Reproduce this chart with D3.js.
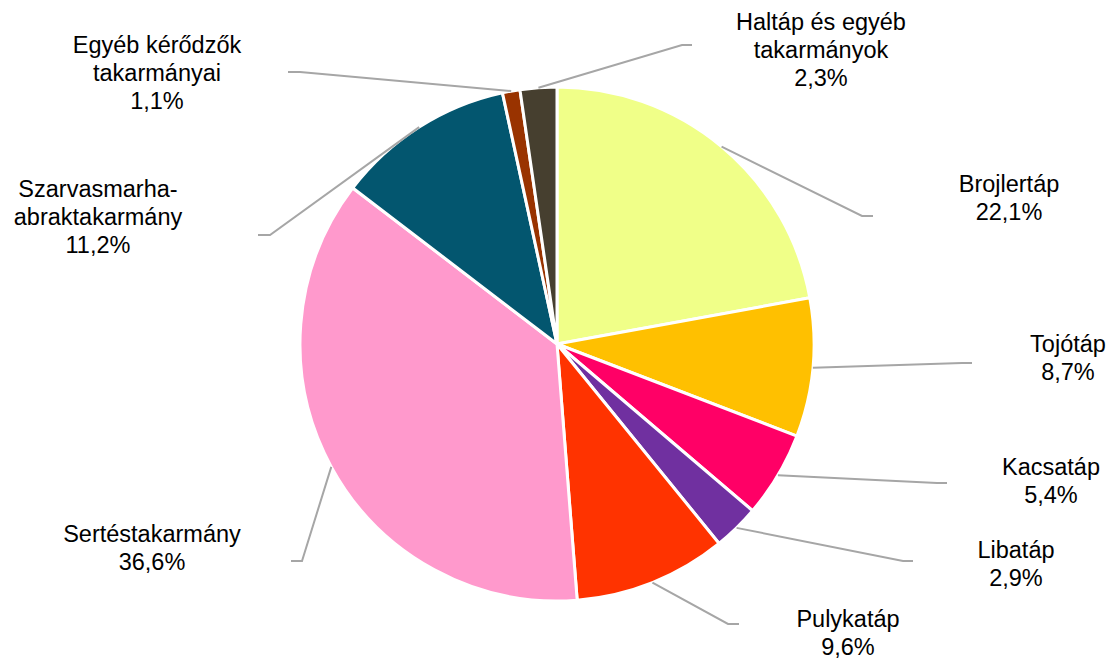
<!DOCTYPE html>
<html>
<head>
<meta charset="utf-8">
<script src="https://cdn.jsdelivr.net/npm/d3@7"></script>
<style>
  html, body { margin: 0; padding: 0; background: #fff; }
</style>
</head>
<body>
<div id="pie-chart"></div>
<script>
const categories = [
    "Brojlertáp", "Tojótáp", "Kacsatáp", "Libatáp", "Pulykatáp",
    "Sertéstakarmány", "Szarvasmarha-abraktakarmány", "Egyéb kérődzők takarmányai",
    "Haltáp és egyéb takarmányok"
];
const values = [22.1, 8.7, 5.4, 2.9, 9.6, 36.6, 11.2, 1.1, 2.3];
const sliceColors = [
    "#F0FF88", "#FFC000", "#FF0066", "#7030A0", "#FF3300",
    "#FF99CC", "#03566F", "#993300", "#463F2F"
];
// label text lines as shown on the chart
const labelLines = [
    ["Brojlertáp"], ["Tojótáp"], ["Kacsatáp"], ["Libatáp"], ["Pulykatáp"],
    ["Sertéstakarmány"], ["Szarvasmarha-", "abraktakarmány"],
    ["Egyéb kérődzők", "takarmányai"], ["Haltáp és egyéb", "takarmányok"]
];

const width = 1118;
const height = 659;
const cx = 557, cy = 344, radius = 257;

// manual label placement (first baseline, centre x) and leader elbows, like the original
const labelLayout = [
    { x: 1009, y: 192, elbow: [862, 216], end: [873, 216] },
    { x: 1068, y: 352, elbow: [962, 363], end: [972, 363] },
    { x: 1051, y: 475, elbow: [937, 483], end: [947, 483] },
    { x: 1016, y: 558, elbow: [903, 561], end: [913, 561] },
    { x: 848, y: 627, elbow: [728, 624], end: [739, 624] },
    { x: 152, y: 542, elbow: [302, 561], end: [291, 561] },
    { x: 98, y: 197, elbow: [270, 235], end: [258, 235] },
    { x: 157, y: 53, elbow: [300, 72], end: [288, 72] },
    { x: 821, y: 30, elbow: [682, 45], end: [692, 45] }
];

const data = categories.map((c, i) => ({ name: c, value: values[i], color: sliceColors[i], lines: labelLines[i], layout: labelLayout[i] }));

const pie = d3.pie().sort(null).value(d => d.value);
const arc = d3.arc().innerRadius(0).outerRadius(radius);
const arcs = pie(data);

const svg = d3.select("#pie-chart").append("svg")
    .attr("width", width)
    .attr("height", height)
    .attr("viewBox", `0 0 ${width} ${height}`);

const g = svg.append("g").attr("transform", `translate(${cx}, ${cy})`);

g.selectAll("path.slice")
    .data(arcs)
    .join("path")
    .attr("class", "slice")
    .attr("d", arc)
    .attr("fill", d => d.data.color)
    .attr("stroke", "#fff")
    .attr("stroke-width", 3)
    .attr("stroke-linejoin", "round");

// leader lines start on the pie edge at the middle of each slice
const edgePoint = d => {
    const a = (d.startAngle + d.endAngle) / 2;
    return [cx + radius * Math.sin(a), cy - radius * Math.cos(a)];
};

svg.selectAll("polyline.leader")
    .data(arcs)
    .join("polyline")
    .attr("class", "leader")
    .attr("points", d => [edgePoint(d), d.data.layout.elbow, d.data.layout.end].map(p => p.join(",")).join(" "))
    .attr("fill", "none")
    .attr("stroke", "#A6A6A6")
    .attr("stroke-width", 2);

const fmt = v => d3.format(".1f")(v).replace(".", ",") + "%";

const labels = svg.selectAll("text.slice-label")
    .data(arcs)
    .join("text")
    .attr("class", "slice-label")
    .attr("text-anchor", "middle")
    .style("font-family", "'Liberation Sans', Arial, sans-serif")
    .style("font-size", "23.5px")
    .style("fill", "#000");

labels.each(function (d) {
    const t = d3.select(this);
    const lines = [...d.data.lines, fmt(d.data.value)];
    lines.forEach((line, i) => {
        t.append("tspan")
            .attr("x", d.data.layout.x)
            .attr("y", d.data.layout.y + i * 28)
            .text(line);
    });
});
</script>
</body>
</html>
